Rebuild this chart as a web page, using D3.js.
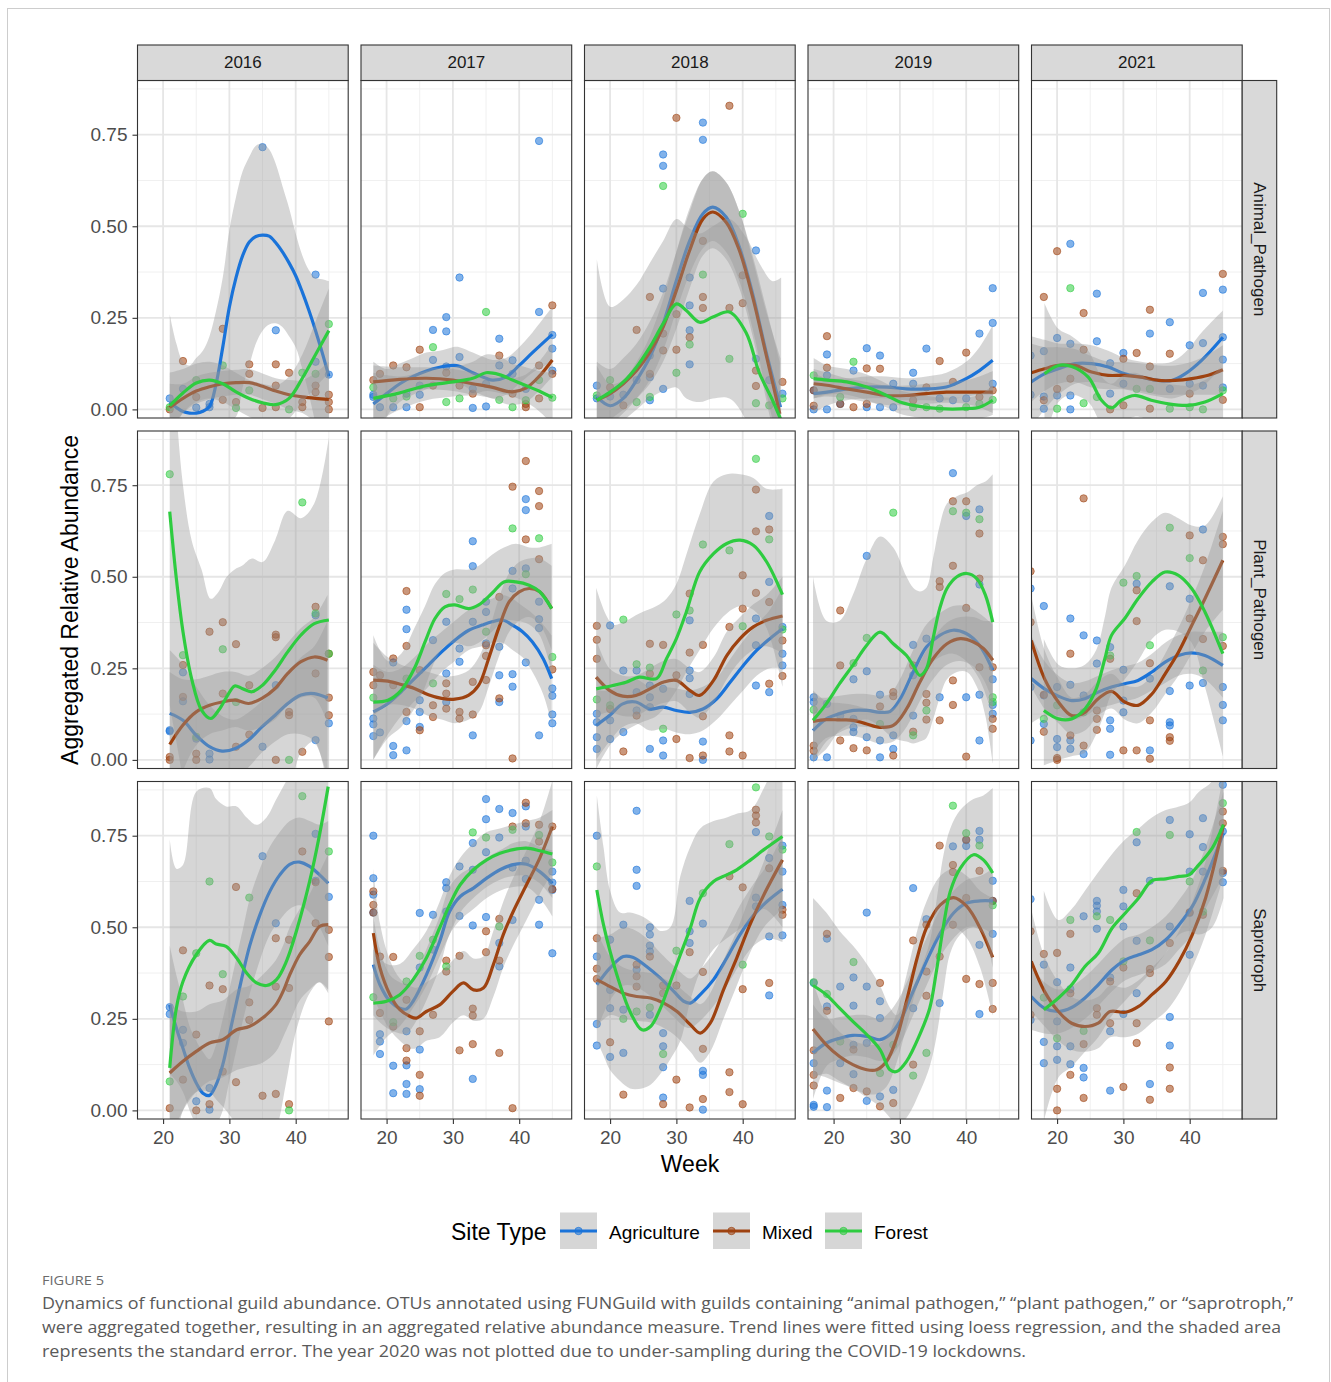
<!DOCTYPE html>
<html><head><meta charset="utf-8">
<script src="https://cdn.jsdelivr.net/npm/d3@7"></script>
<style>html,body{margin:0;padding:0;background:#fff;}svg{display:block;}</style>
</head><body>
<svg id="chart" width="1331" height="1382"></svg>
<script>
// ---------- categories / ticks ----------
const years = [2016, 2017, 2018, 2019, 2021];
const guilds = ["Animal_Pathogen", "Plant_Pathogen", "Saprotroph"];
const siteTypes = ["Agriculture", "Mixed", "Forest"];
const siteCodes = ["A", "M", "F"];
const siteColors = ["#1a73d9", "#9e4210", "#2ecc40"];
const yTickValues = [0, 0.25, 0.5, 0.75];
const yTickLabels = ["0.00", "0.25", "0.50", "0.75"];
const xTickValues = [20, 30, 40];

// ---------- observed points: [year, site, [[week, value], ...]] ----------
const animalPoints = [
[2016,"A",[[21,0.03],[23,0.056],[27,0.006],[27,0.015],[25,0.005],[35,0.716],[37,0.216],[43,0.368],[43,0.13],[45,0.095]]],
[2016,"M",[[21,0.0],[23,0.132],[25,0.034],[29,0.22],[29,0.026],[31,0.02],[33,0.123],[33,0.097],[35,0.004],[37,0.123],[37,0.065],[37,0.006],[39,0.1],[41,0.02],[41,0.006],[43,0.065],[43,0.047],[45,0.04],[45,0.02],[45,0.0]]],
[2016,"F",[[21,0.006],[25,0.08],[29,0.12],[31,0.004],[33,0.052],[39,0.0],[41,0.1],[43,0.097],[45,0.233]]],
[2017,"A",[[18,0.034],[18,0.04],[19,0.006],[21,0.006],[23,0.006],[23,0.043],[25,0.04],[25,0.065],[27,0.217],[27,0.135],[29,0.252],[29,0.213],[29,0.117],[31,0.36],[31,0.143],[33,0.004],[33,0.056],[35,0.008],[35,0.07],[37,0.193],[37,0.12],[39,0.134],[39,0.097],[41,0.056],[43,0.733],[43,0.266],[45,0.203],[45,0.166],[45,0.106]]],
[2017,"M",[[18,0.08],[19,0.097],[21,0.12],[23,0.115],[25,0.163],[25,0.006],[27,0.065],[29,0.1],[31,0.065],[33,0.043],[37,0.147],[39,0.043],[41,0.015],[41,0.006],[43,0.12],[43,0.03],[45,0.284],[45,0.097]]],
[2017,"F",[[18,0.06],[21,0.03],[23,0.035],[27,0.17],[29,0.02],[31,0.03],[35,0.266],[37,0.026],[39,0.006],[41,0.025],[43,0.08],[45,0.032]]],
[2018,"A",[[18,0.065],[18,0.03],[20,0.035],[22,0.04],[24,0.08],[26,0.147],[26,0.088],[26,0.025],[28,0.696],[28,0.665],[28,0.33],[28,0.056],[32,0.36],[32,0.284],[32,0.216],[32,0.123],[34,0.783],[34,0.736],[42,0.434],[42,0.138],[44,0.08],[46,0.043]]],
[2018,"M",[[20,0.06],[22,0.011],[24,0.217],[26,0.307],[26,0.097],[28,0.207],[28,0.161],[30,0.796],[30,0.26],[30,0.163],[32,0.197],[34,0.46],[34,0.307],[34,0.277],[38,0.829],[38,0.277],[40,0.366],[40,0.29],[42,0.106],[42,0.064],[46,0.075]]],
[2018,"F",[[18,0.038],[20,0.08],[24,0.02],[26,0.034],[28,0.61],[30,0.1],[32,0.177],[34,0.368],[38,0.138],[40,0.534],[42,0.017],[44,0.011],[46,0.03]]],
[2019,"A",[[17,0.0],[17,0.052],[19,0.15],[19,0.093],[19,0.0],[21,0.015],[23,0.106],[25,0.167],[25,0.006],[27,0.147],[27,0.006],[29,0.07],[29,0.006],[32,0.1],[32,0.07],[34,0.166],[36,0.03],[38,0.025],[40,0.03],[42,0.207],[44,0.331],[44,0.236],[44,0.07]]],
[2019,"M",[[17,0.01],[17,0.052],[19,0.2],[19,0.114],[21,0.015],[23,0.006],[25,0.112],[25,0.015],[27,0.111],[32,0.025],[34,0.06],[36,0.132],[38,0.075],[40,0.155],[42,0.034],[44,0.052]]],
[2019,"F",[[17,0.093],[21,0.034],[23,0.13],[32,0.006],[34,0.006],[36,0.002],[40,0.006],[42,0.015],[44,0.026]]],
[2021,"A",[[16,0.147],[16,0.04],[18,0.159],[18,0.035],[18,0.002],[20,0.195],[20,0.038],[22,0.452],[22,0.179],[22,0.038],[22,0.0],[26,0.316],[26,0.186],[28,0.126],[28,0.043],[30,0.154],[30,0.07],[34,0.207],[37,0.238],[37,0.056],[40,0.175],[40,0.07],[42,0.318],[42,0.181],[42,0.065],[45,0.327],[45,0.197],[45,0.136],[45,0.06]]],
[2021,"M",[[18,0.307],[18,0.025],[20,0.432],[20,0.056],[22,0.084],[24,0.263],[24,0.163],[28,0.0],[30,0.138],[30,0.011],[32,0.154],[34,0.272],[34,0.117],[34,0.002],[37,0.152],[40,0.043],[45,0.37],[45,0.026]]],
[2021,"F",[[20,0.002],[22,0.331],[24,0.017],[26,0.034],[32,0.056],[34,0.056],[37,0.002],[40,0.006],[42,0.0],[45,0.052]]]
];
const plantPoints = [
[2016,"A",[[21,0.081],[21,0.078],[23,0.239],[23,0.16],[25,0.058],[27,0.017],[27,0.001],[35,0.036],[37,0.204],[43,0.054],[43,0.395],[45,0.1]]],
[2016,"M",[[21,0.008],[21,0.0],[23,0.259],[23,0.172],[25,0.017],[25,0.0],[27,0.35],[29,0.376],[29,0.181],[31,0.316],[31,0.036],[33,0.204],[33,0.069],[37,0.342],[37,0.335],[37,0.0],[39,0.131],[39,0.122],[41,0.022],[43,0.418],[43,0.236],[45,0.29],[45,0.17],[45,0.122]]],
[2016,"F",[[21,0.78],[23,0.286],[25,0.063],[29,0.302],[31,0.158],[39,0.0],[41,0.703],[43,0.4],[45,0.29]]],
[2017,"A",[[18,0.113],[18,0.097],[18,0.065],[19,0.075],[21,0.038],[21,0.013],[21,0.266],[23,0.41],[23,0.357],[23,0.106],[23,0.026],[25,0.163],[25,0.131],[25,0.09],[27,0.327],[29,0.377],[29,0.236],[29,0.158],[31,0.304],[31,0.268],[33,0.597],[33,0.529],[33,0.377],[33,0.067],[35,0.432],[35,0.404],[35,0.318],[37,0.309],[37,0.231],[37,0.158],[39,0.516],[39,0.468],[39,0.234],[39,0.2],[41,0.712],[41,0.682],[41,0.523],[41,0.266],[43,0.432],[43,0.384],[43,0.36],[43,0.067],[45,0.195],[45,0.175],[45,0.124],[45,0.1]]],
[2017,"M",[[18,0.24],[18,0.204],[19,0.231],[21,0.277],[21,0.204],[23,0.461],[23,0.311],[23,0.131],[25,0.245],[25,0.081],[27,0.149],[27,0.117],[29,0.209],[29,0.181],[29,0.14],[31,0.131],[31,0.113],[33,0.213],[33,0.124],[35,0.313],[35,0.284],[35,0.218],[37,0.445],[37,0.168],[39,0.746],[39,0.004],[41,0.816],[41,0.602],[43,0.734],[43,0.693],[43,0.548],[45,0.247]]],
[2017,"F",[[18,0.17],[23,0.222],[27,0.209],[29,0.453],[31,0.439],[33,0.465],[35,0.35],[39,0.632],[41,0.507],[43,0.605],[45,0.281]]],
[2018,"A",[[18,0.126],[18,0.103],[18,0.062],[18,0.03],[20,0.367],[20,0.108],[20,0.057],[22,0.244],[22,0.076],[24,0.244],[24,0.185],[24,0.135],[26,0.203],[26,0.171],[26,0.144],[26,0.03],[28,0.194],[28,0.053],[28,0.012],[32,0.381],[32,0.244],[32,0.223],[32,0.18],[34,0.05],[34,0.0],[42,0.386],[42,0.313],[42,0.203],[44,0.666],[44,0.486],[44,0.185],[46,0.363],[46,0.29],[46,0.258]]],
[2018,"M",[[18,0.366],[18,0.328],[18,0.276],[20,0.139],[22,0.023],[24,0.121],[26,0.317],[26,0.235],[28,0.314],[30,0.231],[30,0.057],[32,0.454],[32,0.293],[32,0.005],[34,0.314],[34,0.119],[34,0.012],[38,0.363],[38,0.067],[38,0.023],[40,0.504],[40,0.413],[40,0.012],[42,0.738],[42,0.624],[42,0.456],[44,0.629],[44,0.431],[44,0.208],[46,0.326],[46,0.229]]],
[2018,"F",[[18,0.165],[20,0.149],[22,0.383],[24,0.261],[26,0.252],[28,0.085],[30,0.397],[32,0.408],[34,0.588],[38,0.572],[40,0.365],[42,0.822],[44,0.602],[46,0.356]]],
[2019,"A",[[17,0.171],[17,0.158],[17,0.007],[19,0.153],[19,0.007],[21,0.121],[23,0.22],[23,0.112],[23,0.089],[23,0.076],[25,0.557],[25,0.242],[25,0.062],[27,0.178],[27,0.053],[27,0.007],[29,0.067],[29,0.03],[32,0.314],[32,0.231],[32,0.121],[34,0.331],[36,0.171],[38,0.783],[40,0.666],[40,0.171],[42,0.684],[42,0.479],[42,0.178],[42,0.053],[44,0.22],[44,0.15],[44,0.126]]],
[2019,"M",[[17,0.039],[17,0.025],[21,0.408],[21,0.258],[21,0.053],[23,0.032],[25,0.026],[27,0.146],[29,0.185],[29,0.174],[29,0.012],[32,0.258],[32,0.077],[34,0.18],[34,0.156],[34,0.11],[36,0.488],[36,0.472],[36,0.108],[38,0.706],[38,0.53],[38,0.217],[38,0.15],[40,0.706],[40,0.415],[40,0.009],[42,0.618],[42,0.495],[42,0.253],[44,0.253],[44,0.112],[44,0.085]]],
[2019,"F",[[17,0.137],[23,0.264],[25,0.333],[27,0.098],[29,0.675],[32,0.067],[34,0.135],[38,0.679],[40,0.675],[42,0.657],[44,0.171],[44,0.158]]],
[2021,"A",[[16,0.468],[16,0.199],[16,0.053],[18,0.42],[18,0.176],[18,0.098],[20,0.199],[20,0.057],[20,0.035],[22,0.386],[22,0.205],[22,0.053],[22,0.03],[24,0.34],[24,0.176],[24,0.016],[26,0.326],[26,0.263],[28,0.308],[28,0.108],[28,0.085],[28,0.014],[30,0.246],[30,0.162],[30,0.13],[32,0.481],[34,0.222],[34,0.026],[37,0.474],[37,0.188],[37,0.103],[37,0.094],[40,0.44],[40,0.203],[42,0.629],[42,0.21],[45,0.199],[45,0.15],[45,0.108]]],
[2021,"M",[[16,0.515],[16,0.376],[18,0.178],[18,0.077],[20,0.005],[20,0.0],[22,0.29],[22,0.067],[24,0.714],[24,0.039],[26,0.135],[26,0.112],[26,0.082],[28,0.276],[30,0.026],[32,0.463],[32,0.379],[32,0.026],[34,0.264],[34,0.108],[34,0.003],[37,0.062],[37,0.052],[40,0.613],[40,0.386],[42,0.545],[42,0.33],[45,0.609],[45,0.589],[45,0.311]]],
[2021,"F",[[18,0.112],[20,0.149],[24,0.13],[28,0.285],[30,0.484],[32,0.502],[34,0.313],[37,0.634],[40,0.551],[42,0.244],[45,0.335]]]
];
const saprotrophPoints = [
[2016,"A",[[21,0.282],[21,0.263],[23,0.22],[23,0.184],[25,0.025],[27,0.061],[27,0.002],[35,0.694],[37,0.511],[43,0.755],[43,0.627],[45,0.583]]],
[2016,"M",[[21,0.006],[23,0.437],[23,0.084],[25,0.207],[25,0.0],[27,0.341],[27,0.017],[29,0.331],[29,0.106],[31,0.61],[31,0.077],[33,0.295],[33,0.247],[35,0.04],[37,0.47],[37,0.338],[37,0.045],[39,0.466],[39,0.334],[39,0.017],[41,0.707],[43,0.623],[43,0.511],[45,0.493],[45,0.419],[45,0.243]]],
[2016,"F",[[21,0.079],[23,0.311],[25,0.429],[27,0.625],[29,0.372],[33,0.581],[39,0.0],[41,0.858],[45,0.707]]],
[2017,"A",[[18,0.75],[18,0.634],[18,0.589],[18,0.54],[19,0.208],[19,0.188],[19,0.154],[21,0.122],[21,0.047],[23,0.216],[23,0.123],[23,0.072],[23,0.045],[25,0.539],[25,0.39],[25,0.166],[25,0.058],[27,0.534],[27,0.439],[29,0.623],[29,0.607],[29,0.543],[31,0.666],[31,0.531],[33,0.73],[33,0.657],[33,0.505],[33,0.086],[35,0.85],[35,0.795],[35,0.705],[35,0.528],[37,0.823],[37,0.745],[37,0.457],[37,0.393],[39,0.812],[39,0.663],[39,0.52],[41,0.83],[41,0.775],[41,0.682],[41,0.632],[43,0.575],[43,0.507],[45,0.652],[45,0.622],[45,0.602],[45,0.429]]],
[2017,"M",[[18,0.598],[18,0.561],[18,0.54],[19,0.42],[19,0.266],[21,0.419],[21,0.229],[23,0.302],[23,0.17],[23,0.136],[25,0.216],[25,0.097],[25,0.04],[27,0.261],[29,0.409],[29,0.379],[31,0.422],[31,0.164],[33,0.278],[33,0.259],[33,0.181],[35,0.489],[35,0.432],[37,0.523],[37,0.409],[37,0.157],[39,0.775],[39,0.006],[41,0.84],[41,0.784],[43,0.78],[43,0.734],[45,0.775],[45,0.604]]],
[2017,"F",[[18,0.309],[21,0.241],[23,0.352],[25,0.422],[27,0.466],[29,0.393],[33,0.759],[35,0.745],[37,0.502],[39,0.766],[43,0.752],[45,0.677]]],
[2018,"A",[[18,0.75],[18,0.42],[18,0.236],[18,0.177],[20,0.466],[20,0.329],[20,0.279],[20,0.146],[22,0.507],[22,0.275],[22,0.157],[24,0.818],[24,0.657],[24,0.613],[24,0.384],[26,0.5],[26,0.48],[26,0.45],[26,0.434],[26,0.261],[28,0.211],[28,0.175],[28,0.118],[28,0.035],[32,0.572],[32,0.489],[32,0.457],[34,0.51],[34,0.108],[34,0.097],[34,0.002],[42,0.76],[42,0.581],[42,0.557],[44,0.689],[44,0.475],[44,0.314],[46,0.723],[46,0.652],[46,0.561],[46,0.478]]],
[2018,"M",[[18,0.47],[18,0.387],[18,0.359],[20,0.186],[22,0.043],[24,0.398],[24,0.366],[24,0.338],[26,0.42],[28,0.341],[28,0.32],[28,0.017],[30,0.341],[30,0.084],[32,0.432],[32,0.008],[34,0.378],[34,0.168],[34,0.031],[38,0.639],[38,0.104],[38,0.05],[40,0.609],[40,0.331],[40,0.017],[42,0.821],[42,0.805],[42,0.786],[44,0.661],[44,0.348],[46,0.548],[46,0.534]]],
[2018,"F",[[18,0.666],[22,0.25],[24,0.27],[26,0.281],[28,0.154],[30,0.436],[34,0.593],[38,0.727],[40,0.398],[42,0.882],[44,0.748],[46,0.712]]],
[2019,"A",[[17,0.348],[17,0.129],[17,0.015],[17,0.01],[19,0.469],[19,0.284],[19,0.054],[19,0.009],[21,0.338],[21,0.129],[23,0.363],[23,0.286],[23,0.179],[23,0.099],[25,0.54],[25,0.338],[25,0.184],[25,0.026],[27,0.298],[27,0.252],[27,0.038],[29,0.056],[32,0.607],[32,0.279],[34,0.522],[36,0.293],[38,0.721],[40,0.722],[40,0.738],[42,0.763],[42,0.739],[42,0.452],[42,0.263],[44,0.627],[44,0.572],[44,0.482]]],
[2019,"M",[[17,0.164],[17,0.097],[17,0.068],[19,0.482],[19,0.272],[21,0.034],[23,0.166],[23,0.061],[25,0.052],[27,0.348],[27,0.011],[29,0.02],[32,0.464],[32,0.125],[34,0.507],[34,0.379],[34,0.313],[36,0.723],[36,0.42],[38,0.67],[38,0.651],[38,0.507],[40,0.739],[40,0.58],[40,0.359],[42,0.654],[42,0.345],[44,0.572],[44,0.348],[44,0.277]]],
[2019,"F",[[17,0.35],[19,0.318],[21,0.188],[23,0.405],[27,0.102],[29,0.179],[32,0.095],[34,0.157],[38,0.832],[40,0.757],[42,0.723],[44,0.56]]],
[2021,"A",[[16,0.577],[16,0.247],[18,0.398],[18,0.187],[18,0.129],[20,0.35],[20,0.243],[20,0.175],[20,0.138],[22,0.39],[22,0.331],[22,0.175],[22,0.126],[24,0.53],[24,0.116],[24,0.09],[26,0.572],[26,0.559],[26,0.543],[26,0.496],[28,0.363],[28,0.216],[28,0.054],[30,0.602],[30,0.557],[30,0.502],[30,0.263],[32,0.732],[32,0.463],[32,0.32],[34,0.627],[34,0.072],[37,0.793],[37,0.502],[37,0.255],[37,0.177],[40,0.754],[40,0.652],[40,0.539],[40,0.425],[42,0.798],[42,0.719],[42,0.652],[45,0.889],[45,0.762],[45,0.648],[45,0.623]]],
[2021,"M",[[16,0.489],[16,0.261],[18,0.427],[20,0.43],[20,0.059],[20,0.0],[22,0.482],[22,0.32],[22,0.097],[24,0.181],[24,0.034],[26,0.279],[26,0.261],[28,0.352],[28,0.238],[30,0.39],[30,0.064],[32,0.593],[32,0.238],[32,0.184],[34,0.386],[34,0.375],[34,0.029],[37,0.457],[37,0.117],[37,0.059],[40,0.541],[42,0.534],[45,0.816],[45,0.784],[45,0.654]]],
[2021,"F",[[18,0.308],[20,0.197],[22,0.52],[24,0.217],[26,0.53],[28,0.52],[30,0.407],[32,0.76],[34,0.464],[37,0.752],[40,0.625],[42,0.543],[45,0.839]]]
];

// ---------- loess fits: [year, site, weeks, fit, lower, upper] ----------
const animalSmooth = [
[2016,"A",[21,22,23,24,25,26,27,28,29,30,31,32,33,34,35,36,37,38,39,40,41,42,43,44,45],[0.02,0.005,-0.006,-0.01,-0.01,-0.005,0.008,0.07,0.17,0.28,0.36,0.42,0.457,0.472,0.476,0.473,0.455,0.43,0.4,0.365,0.32,0.27,0.215,0.155,0.09],[-0.25,-0.17,-0.12,-0.11,-0.1,-0.09,-0.08,-0.06,-0.04,-0.03,-0.02,0.06,0.12,0.18,0.215,0.232,0.235,0.225,0.2,0.17,0.11,0.04,-0.04,-0.12,-0.2],[0.26,0.18,0.13,0.12,0.14,0.16,0.2,0.27,0.36,0.49,0.58,0.65,0.69,0.72,0.726,0.71,0.67,0.61,0.55,0.48,0.42,0.38,0.36,0.355,0.35]],
[2016,"M",[21,23,25,27,29,31,33,35,37,39,41,43,45],[0.005,0.03,0.05,0.062,0.07,0.073,0.073,0.063,0.05,0.04,0.034,0.03,0.027],[-0.06,-0.01,0.015,0.028,0.035,0.04,0.04,0.028,0.015,0.0,-0.01,-0.035,-0.07],[0.07,0.07,0.09,0.1,0.105,0.108,0.11,0.098,0.085,0.08,0.08,0.1,0.13]],
[2016,"F",[21,23,25,27,29,31,33,35,37,39,41,43,45],[0.01,0.045,0.072,0.08,0.07,0.048,0.03,0.018,0.013,0.03,0.085,0.15,0.215],[-0.08,-0.01,0.02,0.03,0.02,0.0,-0.02,-0.035,-0.04,-0.025,0.02,0.06,0.1],[0.1,0.11,0.125,0.13,0.12,0.1,0.08,0.07,0.065,0.09,0.15,0.24,0.33]],
[2017,"A",[18,20,22,24,26,28,30,31,33,35,36,38,40,42,45],[0.015,0.043,0.07,0.09,0.105,0.115,0.12,0.118,0.1,0.085,0.08,0.088,0.12,0.155,0.205],[-0.1,-0.02,0.02,0.04,0.055,0.07,0.07,0.07,0.05,0.035,0.03,0.04,0.07,0.1,0.13],[0.13,0.11,0.125,0.14,0.155,0.16,0.17,0.17,0.155,0.14,0.135,0.14,0.17,0.21,0.28]],
[2017,"M",[18,22,26,30,33,36,38,39,41,43,45],[0.075,0.082,0.085,0.08,0.07,0.06,0.05,0.048,0.058,0.09,0.135],[0.03,0.05,0.055,0.05,0.04,0.03,0.015,0.012,0.02,0.05,0.09],[0.12,0.115,0.115,0.11,0.1,0.092,0.085,0.085,0.095,0.13,0.18]],
[2017,"F",[18,22,26,30,33,35,37,39,41,43,45],[0.03,0.045,0.065,0.075,0.085,0.1,0.095,0.08,0.065,0.05,0.032],[-0.04,0.0,0.025,0.035,0.04,0.05,0.045,0.035,0.02,-0.005,-0.04],[0.1,0.09,0.105,0.115,0.13,0.15,0.145,0.125,0.115,0.105,0.1]],
[2018,"A",[18,20,22,24,26,28,30,32,34,35.5,37.5,39.5,41.5,43.5,45.7],[0.034,0.01,0.03,0.08,0.143,0.234,0.352,0.46,0.534,0.552,0.525,0.443,0.316,0.16,0.006],[-0.05,-0.04,-0.01,0.03,0.08,0.16,0.27,0.37,0.44,0.46,0.43,0.35,0.22,0.05,-0.12],[0.12,0.07,0.08,0.13,0.2,0.3,0.43,0.55,0.63,0.65,0.62,0.54,0.41,0.27,0.14]],
[2018,"M",[18,20,22,24,26,28,30,32,34,35.5,37.5,39.5,41.5,43.5,45.6],[0.025,0.043,0.07,0.106,0.156,0.225,0.325,0.434,0.52,0.539,0.511,0.434,0.307,0.152,-0.012],[-0.08,-0.03,0.0,0.03,0.07,0.13,0.22,0.33,0.42,0.44,0.41,0.33,0.2,0.03,-0.15],[0.13,0.11,0.14,0.18,0.24,0.32,0.43,0.54,0.63,0.65,0.62,0.54,0.42,0.28,0.13]],
[2018,"F",[18,20,22,24,26,28,30,31.5,33.5,35.5,38,40.5,42.5,44.5,45.8],[0.025,0.047,0.075,0.116,0.17,0.234,0.288,0.27,0.238,0.252,0.266,0.21,0.1,0.025,-0.03],[-0.12,-0.05,-0.03,0.0,0.03,0.05,0.06,0.03,0.02,0.03,0.03,-0.03,-0.15,-0.25,-0.4],[0.41,0.28,0.3,0.34,0.4,0.46,0.52,0.5,0.48,0.5,0.52,0.47,0.4,0.35,0.36]],
[2019,"A",[17,19,22,25,28,31,34,37,40,42,44],[0.043,0.047,0.056,0.061,0.061,0.056,0.056,0.061,0.084,0.106,0.134],[-0.01,0.01,0.025,0.03,0.03,0.025,0.025,0.025,0.035,0.04,0.04],[0.1,0.085,0.085,0.09,0.09,0.085,0.09,0.1,0.13,0.17,0.23]],
[2019,"M",[17,19,22,25,28,31,34,37,40,42,44],[0.07,0.066,0.056,0.047,0.038,0.038,0.043,0.047,0.047,0.047,0.047],[0.03,0.035,0.03,0.02,0.012,0.012,0.015,0.018,0.015,0.005,-0.01],[0.11,0.1,0.085,0.075,0.065,0.065,0.07,0.075,0.08,0.09,0.105]],
[2019,"F",[17,19,22,25,28,30,32,36,40,42,44],[0.084,0.08,0.075,0.061,0.038,0.02,0.011,0.002,0.002,0.006,0.025],[0.03,0.04,0.04,0.025,0.005,-0.012,-0.02,-0.028,-0.028,-0.025,-0.015],[0.14,0.12,0.11,0.095,0.07,0.052,0.043,0.033,0.033,0.04,0.065]],
[2021,"A",[16.1,18.1,20.2,22.7,25.2,27.7,30.2,32.7,35.3,37.3,39.3,41.8,45],[0.075,0.097,0.111,0.125,0.125,0.116,0.097,0.088,0.079,0.079,0.097,0.134,0.197],[-0.05,0.0,0.04,0.07,0.075,0.07,0.055,0.045,0.035,0.03,0.04,0.06,0.12],[0.2,0.19,0.18,0.18,0.175,0.16,0.14,0.13,0.125,0.13,0.155,0.21,0.27]],
[2021,"M",[16.1,18.1,20.2,22.7,25.2,27.7,30.2,32.7,35.3,37.8,40.3,42.8,45],[0.1,0.111,0.12,0.12,0.102,0.093,0.093,0.088,0.079,0.079,0.084,0.093,0.108],[0.02,0.05,0.07,0.075,0.06,0.055,0.055,0.05,0.04,0.04,0.04,0.04,0.04],[0.18,0.17,0.17,0.165,0.145,0.13,0.13,0.125,0.12,0.12,0.13,0.15,0.175]],
[2021,"F",[18.1,20.2,22.2,24.7,26.7,28.2,29.7,31.7,34.2,36.8,39.8,42.3,45],[0.097,0.12,0.117,0.088,0.025,0.004,0.025,0.038,0.025,0.015,0.011,0.02,0.043],[-0.09,0.02,0.04,0.02,-0.04,-0.06,-0.04,-0.02,-0.03,-0.04,-0.045,-0.04,-0.03],[0.29,0.22,0.2,0.16,0.09,0.07,0.09,0.1,0.08,0.07,0.065,0.08,0.12]]
];
const plantSmooth = [
[2016,"A",[21,23,25,27,28.9,30.9,32.9,34.9,36.9,38.8,40.8,42.8,44.8],[0.127,0.108,0.067,0.036,0.024,0.031,0.054,0.09,0.122,0.154,0.177,0.181,0.169],[-0.05,-0.05,-0.07,-0.08,-0.07,-0.05,-0.02,0.02,0.05,0.07,0.07,0.05,-0.05],[0.3,0.26,0.2,0.15,0.12,0.11,0.13,0.16,0.2,0.24,0.28,0.31,0.38]],
[2016,"M",[21,23,25,27,28.9,30.9,32.9,34.9,36.9,38.8,40.8,42.8,44.8],[0.042,0.095,0.131,0.149,0.158,0.163,0.154,0.168,0.195,0.236,0.268,0.281,0.272],[-0.15,-0.03,0.04,0.07,0.08,0.09,0.08,0.09,0.11,0.15,0.17,0.17,0.1],[0.24,0.22,0.22,0.23,0.24,0.24,0.23,0.25,0.28,0.32,0.36,0.39,0.45]],
[2016,"F",[21,22,23,24.3,25.8,27.2,28.4,29.6,30.8,31.9,33.4,35,36.9,38.8,40.8,42.8,45],[0.678,0.495,0.35,0.222,0.136,0.113,0.136,0.172,0.202,0.195,0.186,0.204,0.245,0.295,0.341,0.372,0.382],[0.15,0.05,-0.05,-0.15,-0.25,-0.22,-0.19,-0.15,-0.12,-0.15,-0.17,-0.13,-0.1,-0.08,0.02,0.05,-0.1],[1.2,0.95,0.75,0.6,0.52,0.44,0.46,0.5,0.52,0.53,0.55,0.54,0.6,0.68,0.66,0.7,0.88]],
[2017,"A",[18,20.2,22.2,24.2,26.3,28.3,30.3,32.4,34.4,35.9,37.5,39,40.5,42,43.6,44.9],[0.131,0.154,0.186,0.222,0.259,0.295,0.327,0.354,0.368,0.377,0.382,0.368,0.35,0.322,0.277,0.222],[0.0,0.07,0.12,0.16,0.2,0.24,0.27,0.3,0.31,0.32,0.32,0.3,0.28,0.24,0.18,0.1],[0.26,0.24,0.25,0.28,0.32,0.35,0.38,0.41,0.43,0.44,0.45,0.44,0.42,0.4,0.37,0.34]],
[2017,"M",[18,20.2,22.2,24.2,26.3,28.3,30.3,32.4,33.9,35.4,36.9,38.5,40,41.5,43.1,44.9],[0.218,0.215,0.206,0.195,0.178,0.168,0.166,0.177,0.204,0.277,0.359,0.432,0.459,0.468,0.459,0.413],[0.12,0.15,0.15,0.14,0.12,0.11,0.1,0.11,0.13,0.2,0.28,0.35,0.38,0.39,0.37,0.3],[0.32,0.28,0.26,0.25,0.24,0.23,0.23,0.245,0.28,0.35,0.44,0.51,0.54,0.55,0.55,0.53]],
[2017,"F",[18,20.2,22.2,24.2,25.8,27.3,28.8,30.3,32.4,33.9,35.9,37.7,39.5,41.5,43.1,44.9],[0.158,0.163,0.19,0.25,0.322,0.386,0.418,0.423,0.413,0.423,0.455,0.486,0.486,0.477,0.459,0.413],[0.0,0.06,0.09,0.14,0.2,0.27,0.31,0.32,0.31,0.32,0.35,0.38,0.38,0.37,0.34,0.24],[0.34,0.27,0.29,0.36,0.42,0.48,0.51,0.52,0.52,0.53,0.56,0.58,0.59,0.58,0.58,0.59]],
[2018,"A",[17.9,19.9,21.9,23.9,26,28,30,32,34,36.1,38.1,40.1,42.1,44.1,46],[0.094,0.121,0.153,0.158,0.139,0.144,0.135,0.13,0.139,0.167,0.212,0.258,0.299,0.331,0.358],[0.0,0.05,0.09,0.1,0.08,0.085,0.075,0.07,0.08,0.11,0.15,0.19,0.23,0.25,0.25],[0.19,0.19,0.21,0.22,0.2,0.2,0.195,0.19,0.2,0.225,0.275,0.325,0.37,0.41,0.47]],
[2018,"M",[17.9,19.9,21.9,23.9,26,28,30,32,33.5,35.6,37.6,39.6,41.6,43.6,46],[0.226,0.19,0.174,0.176,0.194,0.212,0.217,0.19,0.176,0.217,0.285,0.331,0.363,0.381,0.393],[0.12,0.13,0.12,0.12,0.14,0.155,0.16,0.13,0.115,0.155,0.22,0.27,0.3,0.31,0.29],[0.33,0.25,0.23,0.23,0.25,0.27,0.275,0.25,0.24,0.28,0.35,0.39,0.425,0.45,0.5]],
[2018,"F",[17.9,20.4,22.4,24.4,27,28.5,30,31.5,33.5,35.6,37.6,39.6,41.6,43.6,46],[0.194,0.203,0.212,0.226,0.222,0.276,0.331,0.404,0.513,0.563,0.591,0.6,0.586,0.541,0.451],[-0.025,0.05,0.08,0.1,0.12,0.15,0.19,0.24,0.3,0.36,0.4,0.42,0.41,0.36,0.2],[0.47,0.37,0.38,0.4,0.42,0.44,0.48,0.56,0.67,0.76,0.78,0.78,0.77,0.74,0.74]],
[2019,"A",[16.9,18.9,20.9,23,25,27,28.5,30,32,34,36,38,40,42,44],[0.08,0.112,0.126,0.135,0.135,0.13,0.132,0.165,0.24,0.308,0.34,0.354,0.345,0.313,0.245],[-0.01,0.05,0.075,0.09,0.09,0.085,0.085,0.11,0.18,0.25,0.28,0.29,0.27,0.22,0.12],[0.17,0.17,0.175,0.18,0.18,0.175,0.18,0.22,0.3,0.37,0.4,0.42,0.42,0.4,0.37]],
[2019,"M",[16.9,18.9,20.9,23,25,27,29,31,33,35,37.1,39.1,41.1,42.6,44],[0.105,0.11,0.109,0.108,0.098,0.089,0.094,0.139,0.212,0.276,0.317,0.331,0.322,0.304,0.272],[0.02,0.06,0.065,0.065,0.055,0.045,0.05,0.09,0.16,0.22,0.26,0.27,0.255,0.22,0.16],[0.19,0.16,0.155,0.15,0.14,0.135,0.14,0.19,0.265,0.33,0.375,0.39,0.39,0.38,0.38]],
[2019,"F",[16.9,18.9,20.9,22.9,25,27,29,31,32,33,34,35,36,37.1,38.6,40.1,41.6,42.9,44],[0.108,0.153,0.208,0.258,0.313,0.349,0.317,0.285,0.258,0.231,0.249,0.331,0.413,0.468,0.5,0.509,0.495,0.45,0.376],[0.0,0.03,0.08,0.1,0.11,0.09,0.06,0.05,0.045,0.05,0.06,0.11,0.17,0.22,0.24,0.24,0.2,0.12,-0.01],[0.5,0.38,0.38,0.45,0.55,0.61,0.58,0.5,0.47,0.46,0.47,0.55,0.64,0.7,0.72,0.73,0.75,0.76,0.78]],
[2021,"A",[16.1,18.1,20.2,22.2,24.2,26.2,28.2,30.2,32.2,34.3,36.3,38.3,40.3,42.3,45],[0.222,0.194,0.174,0.162,0.167,0.185,0.199,0.208,0.217,0.24,0.267,0.285,0.292,0.285,0.258],[0.1,0.12,0.12,0.11,0.12,0.14,0.15,0.16,0.17,0.19,0.21,0.23,0.235,0.22,0.17],[0.34,0.27,0.23,0.21,0.215,0.23,0.245,0.255,0.265,0.29,0.32,0.34,0.35,0.35,0.35]],
[2021,"M",[16.1,18.1,20.2,22.2,24.2,26.2,28.2,30.2,32.2,34.3,36.3,38.3,40.3,42.3,45],[0.326,0.222,0.158,0.121,0.13,0.167,0.187,0.158,0.149,0.18,0.235,0.294,0.367,0.44,0.545],[0.2,0.14,0.1,0.07,0.08,0.12,0.14,0.11,0.1,0.13,0.18,0.23,0.29,0.35,0.41],[0.45,0.3,0.22,0.17,0.18,0.215,0.235,0.205,0.2,0.23,0.29,0.36,0.44,0.53,0.68]],
[2021,"F",[18,20.2,22.2,24.2,25.9,27.2,28.2,30.2,32.2,34.3,36.3,38.3,40.3,42.3,45],[0.135,0.112,0.112,0.139,0.194,0.276,0.34,0.386,0.44,0.486,0.513,0.504,0.468,0.404,0.29],[-0.015,0.0,0.01,0.02,0.07,0.13,0.18,0.22,0.27,0.33,0.355,0.35,0.32,0.2,0.01],[0.33,0.26,0.25,0.26,0.3,0.39,0.47,0.53,0.6,0.65,0.675,0.66,0.64,0.64,0.72]]
];
const saprotrophSmooth = [
[2016,"A",[21,22,23,24,25,26,27,28,29,30,31.1,32.1,33.1,34.6,36.1,37.6,39.1,40.6,42.1,43.6,44.9],[0.288,0.225,0.17,0.116,0.075,0.047,0.041,0.07,0.125,0.207,0.298,0.379,0.452,0.534,0.598,0.643,0.672,0.678,0.666,0.643,0.62],[0.1,0.08,0.05,0.0,-0.04,-0.06,-0.06,-0.04,0.0,0.08,0.17,0.25,0.32,0.41,0.48,0.52,0.55,0.56,0.54,0.5,0.45],[0.45,0.37,0.3,0.23,0.19,0.16,0.14,0.18,0.25,0.33,0.42,0.5,0.58,0.66,0.72,0.76,0.79,0.8,0.79,0.78,0.79]],
[2016,"M",[21,23,25,27,29,31.1,33,35,37,38.1,39.1,40.6,42.1,43.6,44.9],[0.102,0.134,0.161,0.184,0.193,0.22,0.229,0.252,0.288,0.325,0.37,0.425,0.461,0.502,0.507],[-0.08,0.0,0.05,0.08,0.09,0.11,0.12,0.13,0.16,0.2,0.24,0.3,0.33,0.35,0.32],[0.29,0.27,0.27,0.29,0.3,0.33,0.34,0.37,0.41,0.45,0.5,0.55,0.59,0.65,0.7]],
[2016,"F",[21,22,23,25,27,28,29.5,31.1,32.6,34.1,35.6,37.1,38.6,40.1,42.1,43.6,44.9],[0.116,0.279,0.352,0.425,0.464,0.454,0.448,0.416,0.375,0.348,0.341,0.357,0.407,0.489,0.625,0.753,0.884],[-0.25,-0.1,0.0,0.05,0.05,0.03,0.0,-0.04,-0.08,-0.1,-0.1,-0.05,0.08,0.22,0.32,0.35,0.33],[0.74,0.66,0.67,0.87,0.88,0.85,0.83,0.83,0.8,0.78,0.8,0.85,0.9,0.95,1.1,1.2,1.35]],
[2017,"A",[18,19,20.5,22,23,24,26,28,29.5,31.1,33.1,35.1,37.1,39.1,41.1,43.1,45],[0.398,0.343,0.298,0.279,0.277,0.298,0.37,0.461,0.543,0.584,0.607,0.634,0.657,0.671,0.672,0.652,0.62],[0.26,0.24,0.22,0.21,0.21,0.23,0.3,0.39,0.48,0.52,0.55,0.58,0.6,0.61,0.61,0.58,0.53],[0.53,0.44,0.37,0.35,0.345,0.36,0.44,0.53,0.61,0.645,0.665,0.69,0.71,0.73,0.735,0.72,0.71]],
[2017,"M",[18,19,20.5,22,23.5,24.5,26,28,30,31.6,33.1,34.6,36.1,37.6,39.1,41.1,43.1,45],[0.484,0.389,0.316,0.275,0.257,0.252,0.27,0.288,0.325,0.348,0.329,0.334,0.398,0.48,0.543,0.616,0.689,0.775],[0.31,0.27,0.22,0.19,0.17,0.17,0.19,0.2,0.24,0.26,0.245,0.25,0.31,0.39,0.45,0.52,0.59,0.65],[0.66,0.51,0.41,0.36,0.34,0.335,0.35,0.375,0.41,0.435,0.415,0.42,0.49,0.57,0.635,0.71,0.79,0.9]],
[2017,"F",[18,20,22,24,26,28,29.5,31.1,33.1,35.1,37.1,39.1,41.1,43.1,45],[0.293,0.298,0.316,0.357,0.416,0.498,0.561,0.616,0.657,0.684,0.702,0.712,0.716,0.709,0.7],[0.15,0.2,0.23,0.28,0.34,0.42,0.48,0.54,0.58,0.61,0.63,0.64,0.64,0.62,0.58],[0.44,0.4,0.4,0.44,0.49,0.57,0.64,0.69,0.73,0.76,0.77,0.78,0.79,0.8,0.82]],
[2018,"A",[18,20,22,23.4,25.5,27.6,29.6,31.1,32.1,33.6,35.6,37.6,39.6,41.7,43.7,46],[0.343,0.389,0.42,0.418,0.393,0.361,0.325,0.298,0.293,0.316,0.357,0.416,0.48,0.534,0.571,0.604],[0.22,0.3,0.34,0.34,0.32,0.29,0.255,0.23,0.225,0.245,0.285,0.34,0.4,0.45,0.47,0.46],[0.47,0.48,0.5,0.495,0.47,0.43,0.395,0.37,0.36,0.385,0.43,0.49,0.56,0.62,0.67,0.75]],
[2018,"M",[18,20,22,24,26.1,28.1,30.1,32.1,33.6,35.1,37.1,39.1,41.1,43.2,46],[0.357,0.338,0.32,0.311,0.307,0.293,0.27,0.234,0.211,0.238,0.329,0.416,0.507,0.589,0.684],[0.23,0.26,0.25,0.245,0.24,0.225,0.2,0.16,0.13,0.16,0.25,0.34,0.43,0.5,0.55],[0.49,0.42,0.39,0.38,0.375,0.36,0.34,0.31,0.29,0.32,0.41,0.49,0.585,0.68,0.82]],
[2018,"F",[18,19,20,21.5,23,24.8,26.1,27.6,29.1,30.6,32.1,33.6,35.6,37.6,39.1,41.2,43.2,46],[0.602,0.507,0.434,0.343,0.27,0.22,0.229,0.279,0.352,0.425,0.498,0.58,0.625,0.643,0.657,0.684,0.712,0.748],[0.19,0.15,0.11,0.08,0.06,0.06,0.07,0.1,0.14,0.19,0.3,0.38,0.44,0.47,0.49,0.52,0.55,0.5],[0.86,0.72,0.6,0.54,0.54,0.53,0.515,0.49,0.5,0.64,0.72,0.77,0.79,0.8,0.81,0.82,0.88,1.0]],
[2019,"A",[16.9,18.9,20.9,22.9,25,27,28.5,30,32,34,36.1,38.1,40.1,42.1,44],[0.157,0.184,0.197,0.205,0.202,0.193,0.207,0.243,0.325,0.407,0.484,0.539,0.566,0.572,0.572],[0.03,0.12,0.14,0.15,0.145,0.135,0.145,0.18,0.26,0.34,0.42,0.47,0.5,0.5,0.48],[0.29,0.25,0.255,0.26,0.26,0.25,0.27,0.31,0.39,0.47,0.55,0.6,0.63,0.64,0.66]],
[2019,"M",[16.9,18.9,20.9,22.9,25,26.5,28,29.5,31,32.6,34,36.1,38.1,40.1,42.1,44],[0.222,0.179,0.147,0.125,0.111,0.111,0.134,0.197,0.298,0.416,0.498,0.561,0.581,0.557,0.498,0.418],[0.09,0.1,0.08,0.06,0.045,0.045,0.065,0.13,0.23,0.34,0.42,0.48,0.5,0.47,0.39,0.26],[0.35,0.26,0.215,0.19,0.18,0.18,0.2,0.265,0.37,0.49,0.57,0.64,0.66,0.64,0.6,0.58]],
[2019,"F",[16.9,18.9,20.9,22.9,25,27,28.5,29.5,31,33,34.5,35.5,36.6,37.6,39.1,41.1,42.6,44],[0.341,0.316,0.279,0.243,0.207,0.166,0.111,0.106,0.134,0.207,0.279,0.379,0.507,0.598,0.661,0.698,0.684,0.648],[0.1,0.09,0.075,0.06,0.035,0.01,-0.02,-0.04,-0.02,0.05,0.12,0.2,0.33,0.43,0.48,0.5,0.48,0.39],[0.58,0.54,0.49,0.45,0.4,0.34,0.28,0.26,0.3,0.38,0.46,0.57,0.7,0.77,0.82,0.85,0.86,0.88]],
[2021,"A",[16.1,18.1,20.2,22.2,24.2,26.2,28.3,30.3,32.3,34.3,36.4,38.4,40.4,42.4,45.1],[0.311,0.279,0.27,0.281,0.307,0.343,0.384,0.411,0.425,0.439,0.466,0.507,0.557,0.634,0.757],[0.22,0.21,0.21,0.225,0.25,0.285,0.325,0.355,0.37,0.38,0.4,0.44,0.48,0.55,0.64],[0.4,0.35,0.33,0.34,0.365,0.4,0.44,0.47,0.48,0.5,0.53,0.575,0.63,0.72,0.87]],
[2021,"M",[16.1,18.1,20.2,22.2,24.2,26.2,28,30.3,32.3,34.3,36.4,38.4,40.4,42.4,45.1],[0.407,0.325,0.27,0.238,0.229,0.238,0.27,0.268,0.284,0.316,0.352,0.407,0.48,0.58,0.78],[0.27,0.23,0.19,0.165,0.16,0.17,0.2,0.2,0.21,0.24,0.27,0.32,0.39,0.48,0.64],[0.55,0.42,0.35,0.31,0.3,0.31,0.34,0.335,0.355,0.39,0.43,0.49,0.57,0.68,0.92]],
[2021,"F",[18,20.2,22.2,24.2,26.2,28.3,30.3,32.3,34.3,36.4,38.4,39.9,41.4,43.4,45.1],[0.275,0.307,0.343,0.393,0.429,0.498,0.539,0.58,0.627,0.632,0.639,0.643,0.671,0.716,0.78],[-0.03,0.09,0.12,0.16,0.2,0.26,0.3,0.34,0.38,0.43,0.48,0.49,0.48,0.5,0.58],[0.6,0.52,0.55,0.6,0.65,0.7,0.74,0.77,0.8,0.82,0.83,0.84,0.87,0.9,1.0]]
];

// ---------- drawing ----------
const FONT = "'Liberation Sans', Arial, Helvetica, sans-serif";
const svg = d3.select("#chart");
const PW = 210.7, PH = 337.5;
const colLeft = years.map((_, i) => 137.5 + i * 223.5);
const rowTop = guilds.map((_, i) => 80.5 + i * 350.5);
const x = d3.scaleLinear().domain([16.14, 47.92]).range([0, PW]);
const y = d3.scaleLinear().domain([-0.0235, 0.898]).range([PH, 0]);
const pointSets = [animalPoints, plantPoints, saprotrophPoints];
const smoothSets = [animalSmooth, plantSmooth, saprotrophSmooth];

svg.append("rect").attr("x", 7.5).attr("y", 8.5).attr("width", 1322).attr("height", 1400)
  .attr("fill", "none").attr("stroke", "#cdcdcd").attr("stroke-width", 1);

svg.append("defs").append("clipPath").attr("id", "pclip")
  .append("rect").attr("x", 0).attr("y", 0).attr("width", PW).attr("height", PH);

const areaGen = d3.area().x(d => x(d.w)).y0(d => y(d.lo)).y1(d => y(d.hi)).curve(d3.curveCatmullRom.alpha(0.5));
const lineGen = d3.line().x(d => x(d.w)).y(d => y(d.f)).curve(d3.curveCatmullRom.alpha(0.5));

guilds.forEach((g, r) => {
  years.forEach((yr, c) => {
    const panel = svg.append("g").attr("transform", `translate(${colLeft[c]},${rowTop[r]})`);
    panel.append("rect").attr("width", PW).attr("height", PH).attr("fill", "#fff");
    const grid = panel.append("g");
    [25, 35, 45].forEach(v => grid.append("line").attr("x1", x(v)).attr("x2", x(v)).attr("y1", 0).attr("y2", PH)
      .attr("stroke", "#f0f0f0").attr("stroke-width", 1));
    [0.125, 0.375, 0.625, 0.875].forEach(v => grid.append("line").attr("x1", 0).attr("x2", PW).attr("y1", y(v)).attr("y2", y(v))
      .attr("stroke", "#f0f0f0").attr("stroke-width", 1));
    xTickValues.forEach(v => grid.append("line").attr("x1", x(v)).attr("x2", x(v)).attr("y1", 0).attr("y2", PH)
      .attr("stroke", "#e6e6e6").attr("stroke-width", 1.8));
    yTickValues.forEach(v => grid.append("line").attr("x1", 0).attr("x2", PW).attr("y1", y(v)).attr("y2", y(v))
      .attr("stroke", "#e6e6e6").attr("stroke-width", 1.8));

    const inner = panel.append("g").attr("clip-path", "url(#pclip)");
    siteCodes.forEach((code, k) => {
      pointSets[r].filter(d => d[0] === yr && d[1] === code).forEach(row => {
        inner.selectAll(null).data(row[2]).enter().append("circle")
          .attr("cx", d => x(d[0])).attr("cy", d => y(d[1])).attr("r", 3.7)
          .attr("fill", siteColors[k]).attr("fill-opacity", 0.55)
          .attr("stroke", siteColors[k]).attr("stroke-opacity", 0.7).attr("stroke-width", 0.8);
      });
    });
    siteCodes.forEach((code, k) => {
      const s = smoothSets[r].find(d => d[0] === yr && d[1] === code);
      if (!s) return;
      const pts = s[2].map((w, i) => ({ w, f: s[3][i], lo: s[4][i], hi: s[5][i] }));
      inner.append("path").attr("d", areaGen(pts)).attr("fill", "#999999").attr("fill-opacity", 0.4);
      inner.append("path").attr("d", lineGen(pts)).attr("fill", "none").attr("stroke", siteColors[k])
        .attr("stroke-width", 3.2).attr("stroke-linecap", "butt");
    });
    panel.append("rect").attr("width", PW).attr("height", PH).attr("fill", "none")
      .attr("stroke", "#333").attr("stroke-width", 1.1);

    if (c === 0) {
      const ax = panel.append("g").call(d3.axisLeft(y).tickValues(yTickValues)
        .tickFormat((d, i) => yTickLabels[i]).tickSize(5).tickPadding(5));
      ax.select(".domain").remove();
      ax.selectAll("line").attr("stroke", "#333").attr("stroke-width", 1.1);
      ax.selectAll("text").attr("font-family", FONT).attr("font-size", 19).attr("fill", "#4d4d4d");
    }
    if (r === guilds.length - 1) {
      const ax = panel.append("g").attr("transform", `translate(0,${PH})`)
        .call(d3.axisBottom(x).tickValues(xTickValues).tickSize(5).tickPadding(7));
      ax.select(".domain").remove();
      ax.selectAll("line").attr("stroke", "#333").attr("stroke-width", 1.1);
      ax.selectAll("text").attr("font-family", FONT).attr("font-size", 19).attr("fill", "#4d4d4d");
    }
  });
});

years.forEach((yr, c) => {
  svg.append("rect").attr("x", colLeft[c]).attr("y", 45).attr("width", PW).attr("height", 35.5)
    .attr("fill", "#d9d9d9").attr("stroke", "#333").attr("stroke-width", 1.1);
  svg.append("text").attr("x", colLeft[c] + PW / 2).attr("y", 62.5).attr("text-anchor", "middle")
    .attr("dominant-baseline", "central").attr("font-family", FONT).attr("font-size", 17).attr("fill", "#1a1a1a").text(yr);
});
const stripX = colLeft[4] + PW;
guilds.forEach((g, r) => {
  svg.append("rect").attr("x", stripX).attr("y", rowTop[r]).attr("width", 34.5).attr("height", PH)
    .attr("fill", "#d9d9d9").attr("stroke", "#333").attr("stroke-width", 1.1);
  svg.append("text").attr("transform", `translate(${stripX + 17.25},${rowTop[r] + PH / 2}) rotate(90)`)
    .attr("text-anchor", "middle").attr("dominant-baseline", "central")
    .attr("font-family", FONT).attr("font-size", 17).attr("fill", "#1a1a1a").text(g);
});

svg.append("text").attr("transform", "translate(78,600) rotate(-90)").attr("text-anchor", "middle")
  .attr("font-family", FONT).attr("font-size", 23).attr("fill", "#000").text("Aggregated Relative Abundance");
svg.append("text").attr("x", 690).attr("y", 1172).attr("text-anchor", "middle")
  .attr("font-family", FONT).attr("font-size", 23).attr("fill", "#000").text("Week");

svg.append("text").attr("x", 451).attr("y", 1240).attr("font-family", FONT).attr("font-size", 23)
  .attr("fill", "#000").text("Site Type");
const keyX = [560, 713, 825];
const labelX = [609, 762, 874];
siteTypes.forEach((s, k) => {
  svg.append("rect").attr("x", keyX[k]).attr("y", 1212.5).attr("width", 37).attr("height", 36.5).attr("fill", "#d6d6d6");
  svg.append("line").attr("x1", keyX[k]).attr("x2", keyX[k] + 37).attr("y1", 1231).attr("y2", 1231)
    .attr("stroke", siteColors[k]).attr("stroke-width", 3.2);
  svg.append("circle").attr("cx", keyX[k] + 18.5).attr("cy", 1231).attr("r", 3.7)
    .attr("fill", siteColors[k]).attr("fill-opacity", 0.55).attr("stroke", siteColors[k]).attr("stroke-opacity", 0.7);
  svg.append("text").attr("x", labelX[k]).attr("y", 1238.5).attr("font-family", FONT).attr("font-size", 19)
    .attr("fill", "#000").text(s);
});

const CAP = "'Open Sans', 'Noto Sans', sans-serif";
svg.append("text").attr("x", 42).attr("y", 1285).attr("font-family", CAP).attr("font-size", 13)
  .attr("fill", "#6b6b6b").attr("textLength", 62).attr("lengthAdjust", "spacingAndGlyphs").text("FIGURE 5");
const captionLines = [
  "Dynamics of functional guild abundance. OTUs annotated using FUNGuild with guilds containing \u201canimal pathogen,\u201d \u201cplant pathogen,\u201d or \u201csaprotroph,\u201d",
  "were aggregated together, resulting in an aggregated relative abundance measure. Trend lines were fitted using loess regression, and the shaded area",
  "represents the standard error. The year 2020 was not plotted due to under-sampling during the COVID-19 lockdowns."
];
const captionWidths = [1251, 1239, 984];
captionLines.forEach((t, i) => {
  svg.append("text").attr("x", 42).attr("y", 1309 + i * 24).attr("font-family", CAP).attr("font-size", 17)
    .attr("fill", "#5a5a5a").attr("textLength", captionWidths[i]).attr("lengthAdjust", "spacingAndGlyphs").text(t);
});
</script>
</body></html>
